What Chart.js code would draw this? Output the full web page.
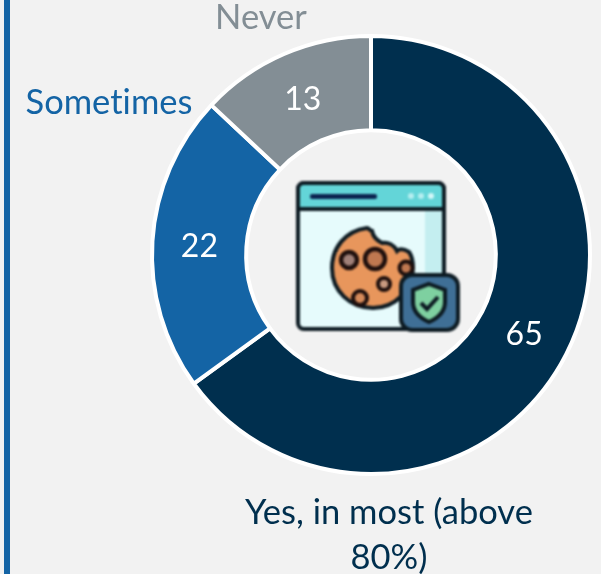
<!DOCTYPE html>
<html>
<head>
<meta charset="utf-8">
<title>Cookies</title>
<script src="https://cdn.jsdelivr.net/npm/chart.js@4/dist/chart.umd.min.js"></script>
<style>
  html, body { margin: 0; padding: 0; background: #f2f2f2; overflow: hidden; }
  #wrap { position: relative; width: 601px; height: 574px; background: #f2f2f2; overflow: hidden; }
  #bar { position: absolute; left: 4px; top: 0; width: 6px; height: 574px; background: #1464a5; }
  #chart { position: absolute; left: 0; top: 0; }
  #icon { position: absolute; left: 0; top: 0; filter: blur(0.8px); }
</style>
</head>
<body>
<div id="wrap">
  <div id="bar"></div>
  <canvas id="chart" width="601" height="574"></canvas>
  <!-- cookie + shield icon in the hole of the ring -->
  <svg id="icon" width="601" height="574" viewBox="0 0 601 574">
    <rect x="298" y="183" width="146" height="146" rx="6" fill="#e6fbfc" stroke="#0c1a22" stroke-width="4"/>
    <rect x="425" y="211" width="17" height="116" fill="#c4eef0"/>
    <path d="M298 209V189a6 6 0 0 1 6-6h134a6 6 0 0 1 6 6v20z" fill="#63d5d8" stroke="#0c1a22" stroke-width="4"/>
    <rect x="310" y="194" width="67" height="5" rx="2" fill="#0b2350"/>
    <circle cx="411" cy="196" r="3" fill="#b5eef0"/>
    <circle cx="421" cy="196" r="3" fill="#b5eef0"/>
    <circle cx="431" cy="196" r="3" fill="#d3f7f8"/>
    <path d="M367 228c-22 3-35 20-35 40 0 23 18 40 41 40 22 0 40-18 40-40 0-7-1-12-4-16-5-3-9-4-12-1-3-6-9-9-15-8-6-3-9-7-10-12-2 0-3-3-5-3z" fill="#e8965c" stroke="#0c1a22" stroke-width="4"/>
    <circle cx="349" cy="260" r="8" fill="#a08078" stroke="#1e0f0d" stroke-width="4.5"/>
    <circle cx="375" cy="259" r="10" fill="#c07850" stroke="#1e0f0d" stroke-width="4.5"/>
    <circle cx="384" cy="284" r="6" fill="#c99a80" stroke="#1e0f0d" stroke-width="4"/>
    <circle cx="360" cy="298" r="7" fill="#d68a5a" stroke="#1e0f0d" stroke-width="4"/>
    <circle cx="406" cy="268" r="6.5" fill="#c07850" stroke="#1e0f0d" stroke-width="4"/>
    <rect x="401" y="275" width="57" height="55" rx="11" fill="#3f6f96" stroke="#0c1a22" stroke-width="4"/>
    <path d="M429 284l16 6v12c0 10-7 16-16 20-9-4-16-10-16-20v-12z" fill="#7ed0a0" stroke="#0c1a22" stroke-width="4"/>
    <path d="M421 303l6 6 11-12" fill="none" stroke="#0c1a22" stroke-width="4"/>
  </svg>
</div>
<script>
const categories = ["Yes, in most (above 80%)", "Sometimes", "Never"];
const values = [65, 22, 13];
const colors = ["#002f4e", "#1464a5", "#838e95"];

const fontName = "Lato, 'Open Sans', sans-serif";

// value on each slice, category names round the ring
const ringLabels = {
  id: "ringLabels",
  afterDatasetsDraw(chart) {
    const ctx = chart.ctx;
    const arcs = chart.getDatasetMeta(0).data;
    ctx.save();
    ctx.textAlign = "center";
    ctx.textBaseline = "middle";
    ctx.font = "32px " + fontName;
    ctx.fillStyle = "#ffffff";
    arcs.forEach((arc, i) => {
      const p = arc.tooltipPosition();
      ctx.fillText(String(values[i]), p.x, p.y + 2);
    });

    // small spacing keeps the "ti" in Sometimes from joining up
    ctx.font = "34.5px " + fontName;
    ctx.letterSpacing = "0.01px";
    ctx.fillStyle = colors[0];
    ctx.fillText("Yes, in most (above", 389, 513);
    ctx.fillText("80%)", 389, 558);
    ctx.fillStyle = colors[1];
    ctx.fillText(categories[1], 109, 103);
    ctx.fillStyle = colors[2];
    ctx.fillText(categories[2], 261, 18);
    ctx.restore();
  }
};

new Chart(document.getElementById("chart"), {
  type: "doughnut",
  data: {
    labels: categories,
    datasets: [{
      data: values,
      backgroundColor: colors,
      borderColor: "#ffffff",
      borderWidth: 4,
      borderAlign: "center"
    }]
  },
  options: {
    responsive: false,
    animation: false,
    cutout: "57%",
    layout: { padding: { left: 150, right: 9, top: 34, bottom: 98 } },
    plugins: {
      legend: { display: false },
      tooltip: { enabled: false }
    }
  },
  plugins: [ringLabels]
});
</script>
</body>
</html>
